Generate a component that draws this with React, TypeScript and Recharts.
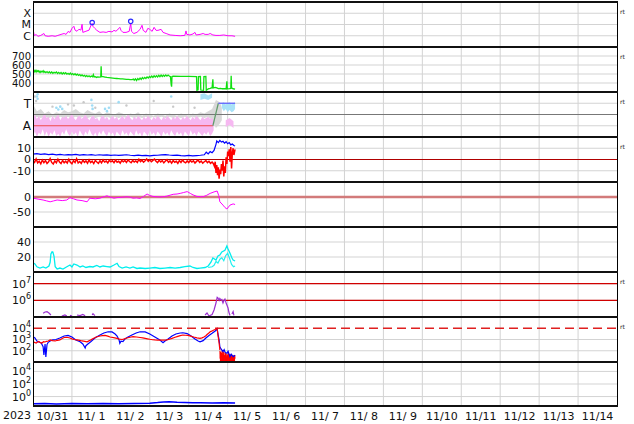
import React from 'react';
import { ComposedChart, Line, Area, XAxis, YAxis, ReferenceLine, CartesianGrid } from 'recharts';

const FONT = 'DejaVu Sans, sans-serif';
const W = 634;
const BOUNDS = [2, 47, 92, 137, 182, 227, 272, 317, 362, 406];

// ---- x axis (days since 2023-10-31 00:00) ----
const DAY_LINES = [1, 2, 3, 4, 5, 6, 7, 8, 9, 10, 11, 12, 13, 14];
const LABEL_POS = [0.5, 1.5, 2.5, 3.5, 4.5, 5.5, 6.5, 7.5, 8.5, 9.5, 10.5, 11.5, 12.5, 13.5, 14.5];
const DAY_LABELS = ['10/31', '11/ 1', '11/ 2', '11/ 3', '11/ 4', '11/ 5', '11/ 6', '11/ 7', '11/ 8', '11/ 9', '11/10', '11/11', '11/12', '11/13', '11/14'];
const YEAR_LABEL = '2023';

// ---- panel 1: X-ray flux (log10 W/m2) ----
const XRAY_TICKS = [-6, -5, -4];
const XRAY_LABELS = ['C', 'M', 'X'];
const xray: [number, number][] = [
  [0, -5.35], [0.03, -5.97], [0.08, -5.9], [0.13, -6.05], [0.2, -5.97], [0.28, -5.8], [0.31, -6.0], [0.39, -6.05],
  [0.49, -6.0], [0.57, -6.05], [0.64, -5.97], [0.72, -5.88], [0.8, -5.8], [0.85, -5.88], [0.9, -5.62], [0.95, -5.7],
  [1.0, -5.35], [1.05, -5.16], [1.08, -5.5], [1.13, -5.6], [1.18, -5.42], [1.23, -5.5], [1.26, -4.98], [1.28, -5.7],
  [1.36, -5.6], [1.44, -5.5], [1.49, -5.07], [1.52, -4.9], [1.54, -5.16], [1.59, -5.35], [1.64, -5.52], [1.72, -5.7],
  [1.8, -5.66], [1.88, -5.7], [1.95, -5.61], [2.03, -5.66], [2.08, -5.52], [2.13, -5.6], [2.21, -5.34], [2.23, -5.25],
  [2.26, -5.52], [2.31, -5.7], [2.39, -5.7], [2.47, -5.61], [2.51, -4.9], [2.53, -5.61], [2.59, -5.8], [2.67, -5.7],
  [2.75, -5.43], [2.8, -5.07], [2.83, -5.52], [2.9, -5.7], [2.95, -5.34], [3.0, -5.43], [3.06, -5.61], [3.11, -5.25],
  [3.16, -5.52], [3.21, -5.52], [3.29, -5.43], [3.34, -5.7], [3.42, -5.8], [3.52, -5.93], [3.65, -5.97], [3.78, -6.0],
  [3.9, -5.97], [3.93, -5.57], [3.95, -5.88], [4.03, -5.93], [4.11, -5.84], [4.16, -5.7], [4.19, -5.93], [4.29, -5.88],
  [4.37, -5.8], [4.42, -5.88], [4.5, -5.88], [4.55, -5.8], [4.62, -5.93], [4.7, -5.97], [4.8, -5.97], [4.9, -5.93],
  [5.01, -6.0], [5.11, -6.0], [5.19, -6.05],
];
const flares: [number, number][] = [[1.52, -4.82], [2.51, -4.72]];

// ---- panel 2: solar wind speed (km/s) ----
const SPEED_TICKS = [400, 500, 600, 700];
const speed: [number, number][] = [
  [0, 530], [0.02, 545], [0.04, 525], [0.06, 538], [0.08, 522], [0.1, 540], [0.12, 528], [0.14, 535], [0.16, 520],
  [0.18, 532], [0.2, 518], [0.22, 530], [0.24, 524], [0.26, 536], [0.28, 518], [0.3, 528], [0.33, 515], [0.36, 527],
  [0.39, 512], [0.42, 525], [0.45, 510], [0.48, 522], [0.51, 508], [0.54, 520], [0.57, 512], [0.6, 523], [0.63, 506],
  [0.66, 518], [0.69, 504], [0.72, 516], [0.75, 500], [0.78, 514], [0.81, 502], [0.84, 515], [0.87, 498], [0.9, 508],
  [0.93, 496], [0.96, 510], [0.99, 494], [1.02, 505], [1.05, 490], [1.08, 503], [1.11, 488], [1.14, 498], [1.17, 484],
  [1.2, 494], [1.23, 480], [1.26, 490], [1.29, 476], [1.32, 486], [1.35, 472], [1.38, 482], [1.41, 470], [1.44, 480],
  [1.47, 468], [1.5, 478], [1.53, 470], [1.55, 492], [1.57, 466], [1.6, 470], [1.63, 462], [1.66, 468], [1.7, 465],
  [1.74, 468], [1.75, 585], [1.76, 472], [1.8, 470], [1.85, 466], [1.9, 462], [1.95, 460], [2.0, 458], [2.05, 455],
  [2.1, 452], [2.15, 450], [2.2, 448], [2.25, 446], [2.3, 445], [2.35, 443], [2.4, 441], [2.45, 440], [2.5, 438],
  [2.55, 437], [2.58, 444], [2.6, 432], [2.63, 446], [2.66, 428], [2.69, 450], [2.72, 436], [2.75, 455], [2.78, 440],
  [2.81, 460], [2.84, 446], [2.87, 462], [2.9, 450], [2.93, 468], [2.96, 455], [2.99, 472], [3.02, 460], [3.05, 478],
  [3.08, 462], [3.11, 480], [3.14, 466], [3.17, 482], [3.2, 468], [3.23, 485], [3.26, 470], [3.29, 488], [3.32, 472],
  [3.35, 486], [3.38, 474], [3.41, 490], [3.44, 476], [3.47, 488], [3.5, 478], [3.53, 470], [3.55, 380], [3.56, 360],
  [3.57, 472], [3.6, 475], [3.8, 474], [4.0, 473], [4.2, 472], [4.21, 320], [4.24, 325], [4.25, 470], [4.3, 472],
  [4.31, 322], [4.38, 318], [4.39, 470], [4.44, 472], [4.45, 320], [4.5, 335], [4.55, 340], [4.6, 348], [4.62, 440],
  [4.63, 345], [4.68, 352], [4.72, 345], [4.76, 338], [4.82, 340], [4.86, 336], [4.92, 338], [4.96, 334], [4.98, 420],
  [4.99, 335], [5.05, 338], [5.08, 340], [5.09, 480], [5.1, 345], [5.14, 336], [5.19, 332],
];

// ---- panel 3: IMF sector (T / A) ----
const SECTOR_TICKS = [1, -1];
const SECTOR_LABELS = ['T', 'A'];
const sectorGray: [number, number, number][] = [
  [0, -0.3, 0.9], [0.1, -0.2, 0.3], [0.2, -0.3, 0.5], [0.3, -0.2, 0.1], [0.4, -0.3, 0.3], [0.5, -0.2, 0.0],
  [0.6, -0.3, 0.2], [0.7, -0.2, 0.1], [0.8, -0.3, 0.4], [0.9, -0.2, 0.2], [1.0, -0.3, 0.3], [1.1, -0.2, 0.5],
  [1.2, -0.3, 0.2], [1.3, -0.2, 0.1], [1.4, -0.3, 0.4], [1.5, -0.2, 0.2], [1.6, -0.3, 0.1], [1.7, -0.2, 0.3],
  [1.8, -0.3, 0.0], [1.9, -0.2, 0.2], [2.0, -0.3, 0.1], [2.1, -0.2, 0.0], [2.2, -0.3, 0.2], [2.3, -0.2, 0.1],
  [2.4, -0.3, -0.1], [2.5, -0.2, 0.1], [2.6, -0.3, 0.0], [2.7, -0.2, 0.2], [2.8, -0.3, -0.1], [2.9, -0.2, 0.1],
  [3.0, -0.3, 0.0], [3.1, -0.2, -0.1], [3.2, -0.3, 0.1], [3.3, -0.2, 0.0], [3.4, -0.3, -0.1], [3.5, -0.2, 0.1],
  [3.6, -0.3, 0.0], [3.7, -0.2, -0.1], [3.8, -0.3, 0.1], [3.9, -0.2, 0.0], [4.0, -0.3, -0.1], [4.1, -0.2, 0.1],
  [4.2, -0.3, 0.0], [4.3, -0.2, 0.2], [4.4, -0.3, 0.1], [4.5, -0.2, 0.3], [4.6, -0.5, 0.5], [4.7, -1.2, 1.3],
  [4.8, -0.8, 1.1], [4.85, -0.5, 0.6],
];
const sectorPink: [number, number, number][] = [
  [0, -1.9, -0.3], [0.05, -1.5, 0.0], [0.1, -2.0, -0.4], [0.15, -1.6, -0.1], [0.2, -1.8, -0.5], [0.25, -1.3, -0.2],
  [0.3, -1.9, 0.1], [0.35, -1.5, -0.3], [0.4, -2.0, -0.2], [0.45, -1.6, -0.6], [0.5, -1.8, -0.1], [0.55, -1.4, -0.4],
  [0.6, -1.9, -0.2], [0.65, -1.7, 0.0], [0.7, -2.0, -0.5], [0.75, -1.5, -0.2], [0.8, -1.8, -0.3], [0.85, -1.3, -0.1],
  [0.9, -1.7, -0.4], [0.95, -1.9, -0.2], [1.0, -1.5, 0.1], [1.05, -1.8, -0.3], [1.1, -1.6, -0.5], [1.15, -2.0, -0.2],
  [1.2, -1.4, -0.1], [1.25, -1.7, -0.4], [1.3, -1.9, -0.2], [1.35, -1.5, 0.0], [1.4, -1.8, -0.3], [1.45, -1.3, -0.5],
  [1.5, -1.7, -0.2], [1.55, -1.9, -0.1], [1.6, -1.6, -0.4], [1.65, -2.0, -0.3], [1.7, -1.5, -0.6], [1.75, -1.8, -0.2],
  [1.8, -1.4, -0.1], [1.85, -1.7, -0.4], [1.9, -1.9, -0.2], [1.95, -1.5, -0.5], [2.0, -1.8, -0.3], [2.05, -1.6, -0.1],
  [2.1, -2.0, -0.4], [2.15, -1.5, -0.2], [2.2, -1.7, -0.5], [2.25, -1.9, -0.3], [2.3, -1.4, -0.1], [2.35, -1.8, -0.4],
  [2.4, -1.6, -0.2], [2.45, -1.9, 0.0], [2.5, -1.5, -0.3], [2.55, -1.7, -0.5], [2.6, -1.9, -0.2], [2.65, -1.4, -0.4],
  [2.7, -1.8, -0.1], [2.75, -1.6, -0.3], [2.8, -2.0, -0.5], [2.85, -1.5, -0.2], [2.9, -1.7, -0.4], [2.95, -1.9, -0.1],
  [3.0, -1.4, -0.3], [3.05, -1.8, -0.5], [3.1, -1.6, -0.2], [3.15, -1.9, -0.4], [3.2, -1.5, -0.1], [3.25, -1.7, -0.3],
  [3.3, -2.0, -0.5], [3.35, -1.5, -0.2], [3.4, -1.8, -0.4], [3.45, -1.6, -0.1], [3.5, -1.9, -0.3], [3.55, -1.4, -0.5],
  [3.6, -1.7, -0.2], [3.65, -1.9, -0.4], [3.7, -1.5, -0.1], [3.75, -1.8, -0.3], [3.8, -1.6, -0.5], [3.85, -2.0, -0.2],
  [3.9, -1.5, -0.4], [3.95, -1.7, -0.1], [4.0, -1.9, -0.3], [4.05, -1.4, -0.5], [4.1, -1.8, -0.2], [4.15, -1.6, -0.4],
  [4.2, -1.9, -0.1], [4.25, -1.5, -0.3], [4.3, -1.7, -0.5], [4.35, -1.9, -0.2], [4.4, -1.6, -0.4], [4.45, -1.8, -0.3],
  [4.5, -1.5, -0.2], [4.55, -1.9, -0.4], [4.6, -1.7, -0.3], [4.64, -1.4, -0.6],
];
const sectorPinkEnd: [number, number, number][] = [[4.95, -1.1, -0.5], [5.05, -0.9, -0.3], [5.15, -1.2, -0.6]];
const sectorCyanA: [number, number, number][] = [[4.3, 1.3, 1.8], [4.4, 1.4, 1.9], [4.5, 1.3, 1.7], [4.6, 1.5, 1.9]];
const sectorCyanB: [number, number, number][] = [
  [4.85, 0.6, 1.0], [4.9, 0.3, 1.1], [4.95, 0.5, 0.9], [5.0, 0.2, 1.0], [5.05, 0.4, 1.1], [5.1, 0.2, 0.9], [5.15, 0.3, 1.0], [5.19, 0.5, 1.1],
];
const sectorCyanDots: [number, number][] = [
  [0.1, 1.6], [0.12, 1.4], [0.12, 1.8], [0.6, 0.6], [0.65, 0.45], [0.7, 0.7], [0.75, 0.5], [1.5, 1.3], [1.52, 0.8],
  [1.53, 0.5], [1.85, 0.5], [1.9, 0.3], [1.95, 0.6], [2.2, 1.1], [3.55, 1.6],
];
const sectorGrayDots: [number, number][] = [
  [0.05, 1.6], [0.08, 1.2], [0.5, 0.7], [0.9, 0.9], [1.05, 0.8], [1.3, 1.1], [1.6, 0.6], [2.4, 0.8], [3.1, 1.2], [3.6, 0.7], [4.15, 0.6],
];
const sectorAway: [number, number][] = [[0, -1], [4.62, -1]];
const sectorSwitch: [number, number][] = [[4.62, -1], [4.76, 1]];
const sectorToward: [number, number][] = [[4.76, 1], [5.19, 1]];

// ---- panel 4: IMF Bt / Bz (nT) ----
const B_TICKS = [10, 0, -10];
const bt: [number, number][] = [
  [0, 4.8], [0.1, 5.2], [0.2, 4.5], [0.3, 5.0], [0.4, 4.3], [0.5, 4.7], [0.6, 4.2], [0.7, 4.6], [0.8, 4.0], [0.9, 4.4],
  [1.0, 4.1], [1.1, 4.5], [1.2, 3.9], [1.3, 4.3], [1.4, 4.0], [1.5, 4.4], [1.6, 3.8], [1.7, 4.2], [1.8, 3.9], [1.9, 4.1],
  [2.0, 3.7], [2.1, 4.0], [2.2, 3.6], [2.3, 3.9], [2.4, 4.2], [2.5, 3.8], [2.6, 3.5], [2.7, 3.8], [2.8, 3.4], [2.9, 3.7],
  [3.0, 3.3], [3.1, 3.6], [3.2, 3.8], [3.3, 4.1], [3.4, 4.4], [3.5, 4.0], [3.6, 3.7], [3.7, 3.9], [3.8, 3.5], [3.9, 3.3],
  [4.0, 3.6], [4.1, 3.2], [4.2, 3.5], [4.3, 3.8], [4.4, 4.2], [4.45, 6.5], [4.5, 5.0], [4.55, 7.0], [4.6, 6.0], [4.65, 8.0],
  [4.7, 13.5], [4.72, 16.5], [4.76, 15.0], [4.8, 17.0], [4.84, 15.5], [4.88, 16.2], [4.92, 14.5], [4.96, 15.8], [5.0, 14.0],
  [5.04, 15.0], [5.08, 13.0], [5.12, 13.8], [5.16, 12.5], [5.19, 12.0],
];
const bz: [number, number][] = [
  [0, -1], [0.04, -2.5], [0.08, 0.5], [0.12, -3], [0.16, -1.5], [0.2, -3.8], [0.24, -0.5], [0.28, -2.8], [0.32, -1],
  [0.36, -3.5], [0.4, -2], [0.44, 0.8], [0.48, -2.6], [0.52, -4], [0.56, -1.2], [0.6, -3], [0.64, 0.3], [0.68, -2.2],
  [0.72, -3.6], [0.76, -0.8], [0.8, -2.9], [0.84, -1.5], [0.88, -3.2], [0.92, 0.2], [0.96, -2.4], [1.0, -3.8], [1.04, -1],
  [1.08, -2.7], [1.12, 0.6], [1.16, -3.1], [1.2, -1.8], [1.24, -3.5], [1.28, -0.6], [1.32, -2.5], [1.36, -1.2], [1.4, -3.3],
  [1.44, -0.3], [1.48, -2.8], [1.52, -1.5], [1.56, -3.6], [1.6, -0.9], [1.64, -2.2], [1.68, -3.4], [1.72, -1.1], [1.76, -2.9],
  [1.8, -0.4], [1.84, -2.3], [1.88, -1.4], [1.92, -3], [1.96, -0.7], [2.0, -2.1], [2.04, -1.2], [2.08, -2.8], [2.12, -0.5],
  [2.16, -2.4], [2.2, -1.6], [2.24, -3.2], [2.28, -0.8], [2.32, -2], [2.36, -1], [2.4, -2.6], [2.44, -0.4], [2.48, -1.8],
  [2.52, -2.9], [2.56, -0.9], [2.6, -2.2], [2.64, -1.3], [2.68, -2.7], [2.72, 0.2], [2.76, -1.9], [2.8, -0.6], [2.84, -2.4],
  [2.88, -1.1], [2.92, 0.5], [2.96, -1.6], [3.0, -0.3], [3.04, -2], [3.08, -0.8], [3.12, 0.4], [3.16, -1.5], [3.2, -2.8],
  [3.24, -0.6], [3.28, -2.2], [3.32, -1], [3.36, -3], [3.4, -1.4], [3.44, -0.2], [3.48, -2.5], [3.52, -1.2], [3.56, -3.2],
  [3.6, -0.9], [3.64, -2.4], [3.68, -1.6], [3.72, -3.4], [3.76, -1], [3.8, -2.6], [3.84, -0.5], [3.88, -2.1], [3.92, -3],
  [3.96, -1.3], [4.0, -2.7], [4.04, -0.8], [4.08, -2.3], [4.12, -1.2], [4.16, -3.1], [4.2, -1.7], [4.24, -0.6], [4.28, -2.5],
  [4.32, -1.4], [4.36, -3.2], [4.4, -2], [4.44, -1], [4.48, -2.8], [4.52, -1.6], [4.56, -3.4], [4.6, -2.2], [4.63, -3.5],
  [4.66, -6], [4.68, -2], [4.7, -12], [4.72, -5], [4.74, -14], [4.76, -7], [4.78, -17], [4.8, -9], [4.82, -13], [4.84, -4],
  [4.86, -10], [4.88, -1], [4.9, -15], [4.92, -6], [4.94, -12], [4.96, 2], [4.98, -4], [5.0, 7], [5.02, 3], [5.04, 9],
  [5.06, -2], [5.08, 11], [5.1, -8], [5.12, 6], [5.14, 10], [5.16, 4], [5.19, 9],
];

// ---- panel 5: Dst (nT) ----
const DST_TICKS = [0, -50];
const dst: [number, number][] = [
  [0, -4], [0.13, -7], [0.26, -10], [0.35, -13], [0.44, -16], [0.53, -13], [0.62, -10], [0.75, -12], [0.87, -10],
  [0.95, -2], [1.04, -6], [1.13, -10], [1.26, -12], [1.39, -16], [1.46, -4], [1.6, -6], [1.72, -4], [1.8, 0], [1.9, 4],
  [2.0, -1], [2.08, -4], [2.16, -2], [2.28, -1], [2.41, 1], [2.5, -1], [2.57, -4], [2.66, -3], [2.75, -5], [2.84, 2],
  [2.93, 10], [3.0, 5], [3.08, 2], [3.17, 1], [3.26, 0], [3.35, 1], [3.44, 3], [3.52, 6], [3.6, 9], [3.7, 10], [3.78, 12],
  [3.87, 15], [3.96, 18], [4.04, 12], [4.11, 7], [4.21, 2], [4.3, 1], [4.37, 1], [4.45, 5], [4.55, 12], [4.65, 17],
  [4.73, 20], [4.77, 5], [4.8, -16], [4.88, -27], [4.93, -35], [4.98, -40], [5.06, -27], [5.14, -23], [5.19, -25],
];

// ---- panel 6: proton density ----
const DENS_TICKS = [40, 20];
const dens: [number, number][] = [
  [0, 12.4], [0.05, 10.7], [0.1, 7], [0.18, 5.3], [0.26, 6.7], [0.33, 5.3], [0.41, 8], [0.44, 13], [0.46, 24], [0.49, 27],
  [0.51, 26.7], [0.54, 21], [0.57, 7], [0.62, 4], [0.69, 5.3], [0.77, 4], [0.87, 7], [0.95, 9.3], [1.0, 6.7], [1.05, 10.7],
  [1.13, 9.3], [1.21, 6.7], [1.28, 8], [1.36, 6], [1.46, 7.3], [1.54, 6.7], [1.64, 8.7], [1.72, 6.7], [1.8, 8], [1.9, 7.3],
  [1.98, 6.7], [2.08, 9.3], [2.16, 11.6], [2.21, 7.3], [2.29, 5.3], [2.39, 6.7], [2.49, 5.3], [2.57, 6.7], [2.67, 4.7],
  [2.75, 5.3], [2.88, 4.7], [3.0, 5.3], [3.13, 6], [3.26, 4.7], [3.39, 5.3], [3.52, 6], [3.65, 5.3], [3.78, 6], [3.9, 7.3],
  [4.03, 8], [4.11, 6], [4.21, 4.7], [4.29, 5.3], [4.42, 6], [4.5, 8], [4.57, 13], [4.62, 18.7], [4.7, 16], [4.75, 21.3],
  [4.8, 22.7], [4.85, 26.7], [4.93, 29], [4.98, 34.7], [5.01, 30.7], [5.06, 25], [5.11, 18.7], [5.14, 16], [5.19, 14.7],
];
const dens2: [number, number][] = [
  [4.5, 6], [4.6, 7], [4.65, 9], [4.7, 14], [4.75, 12], [4.8, 17], [4.85, 19], [4.9, 15], [4.95, 22], [5.0, 25],
  [5.05, 18], [5.1, 10], [5.15, 7], [5.19, 8],
];

// ---- panel 7: log10 flux (purple) ----
const P7_TICKS = [7, 6];
const p7: [number, number | null][] = [
  [0.26, 5.22], [0.31, 5.3], [0.36, 5.32], [0.41, 5.24], [0.46, 5.12], [0.5, null], [0.74, 5.06], [0.82, 5.12],
  [0.87, 5.06], [0.9, null], [0.95, 5.1], [1.0, 5.05], [1.05, null], [1.13, 5.12], [1.21, 5.08], [1.28, 5.15],
  [1.34, 5.08], [1.38, null], [1.52, 5.12], [1.54, 5.2], [1.59, 5.08], [1.62, null], [4.42, 5.12], [4.47, 5.24],
  [4.52, 5.06], [4.6, 5.15], [4.65, 5.42], [4.7, 5.84], [4.73, 6.18], [4.75, 6.14], [4.78, 6.0], [4.8, 6.11],
  [4.83, 6.02], [4.85, 6.05], [4.88, 5.84], [4.91, 6.02], [4.93, 6.08], [4.96, 5.84], [4.98, 5.72], [5.01, 5.54],
  [5.03, 5.3], [5.06, 5.09], [5.08, null], [5.11, 5.18], [5.14, 5.32], [5.16, 5.1],
];

// ---- panel 8: log10 electron flux ----
const P8_TICKS = [4, 3, 2];
const p8blue: [number, number][] = [
  [0, 3.25], [0.05, 3.13], [0.1, 2.87], [0.15, 2.78], [0.21, 2.69], [0.26, 2.36], [0.28, 1.62], [0.31, 2.6], [0.33, 1.44],
  [0.36, 2.55], [0.39, 2.75], [0.44, 2.87], [0.51, 2.96], [0.59, 3.0], [0.69, 3.13], [0.8, 3.31], [0.9, 3.36], [1.0, 3.22],
  [1.1, 2.96], [1.21, 2.8], [1.28, 2.6], [1.34, 2.24], [1.36, 2.45], [1.41, 2.6], [1.49, 2.82], [1.59, 3.13], [1.72, 3.4],
  [1.82, 3.58], [1.93, 3.69], [2.03, 3.67], [2.11, 3.49], [2.16, 3.31], [2.21, 2.96], [2.23, 2.66], [2.26, 2.85], [2.31, 2.82],
  [2.36, 3.04], [2.44, 3.22], [2.54, 3.4], [2.65, 3.58], [2.75, 3.69], [2.88, 3.67], [3.0, 3.49], [3.13, 3.22], [3.26, 2.96],
  [3.34, 2.72], [3.39, 2.87], [3.47, 3.04], [3.57, 3.31], [3.67, 3.49], [3.78, 3.58], [3.85, 3.6], [3.96, 3.53], [4.06, 3.31],
  [4.16, 3.04], [4.24, 2.87], [4.29, 2.8], [4.37, 2.9], [4.44, 3.13], [4.52, 3.36], [4.6, 3.55], [4.68, 3.76], [4.73, 3.93],
  [4.75, 3.49], [4.78, 2.96], [4.8, 2.36], [4.83, 2.16], [4.88, 1.92], [4.91, 2.1], [4.93, 1.89], [4.98, 1.76], [5.01, 1.95],
  [5.06, 1.47], [5.09, 1.7], [5.14, 1.47], [5.19, 1.6],
];
const p8red: [number, number][] = [
  [0, 2.8], [0.04, 2.74], [0.08, 2.69], [0.12, 2.78], [0.15, 2.82], [0.19, 2.72], [0.23, 2.69], [0.27, 2.8], [0.31, 2.78],
  [0.35, 2.84], [0.39, 2.87], [0.44, 2.96], [0.5, 2.9], [0.57, 2.87], [0.63, 2.93], [0.69, 2.96], [0.75, 3.08], [0.8, 3.18],
  [0.87, 3.2], [0.95, 3.13], [1.0, 3.06], [1.05, 3.0], [1.13, 2.96], [1.2, 2.92], [1.26, 2.87], [1.33, 2.84], [1.39, 2.8],
  [1.46, 2.92], [1.52, 3.04], [1.57, 3.12], [1.62, 3.22], [1.72, 3.31], [1.78, 3.35], [1.85, 3.36], [1.92, 3.3], [1.98, 3.22],
  [2.07, 3.16], [2.16, 3.1], [2.22, 3.04], [2.29, 3.0], [2.35, 3.06], [2.41, 3.13], [2.49, 3.2], [2.57, 3.25], [2.66, 3.22],
  [2.75, 3.18], [2.82, 3.14], [2.88, 3.1], [2.94, 3.06], [3.0, 3.02], [3.07, 2.98], [3.13, 2.96], [3.2, 2.95], [3.26, 2.94],
  [3.35, 2.95], [3.44, 2.96], [3.5, 3.02], [3.57, 3.1], [3.65, 3.2], [3.72, 3.28], [3.78, 3.35], [3.85, 3.4], [3.92, 3.38],
  [3.98, 3.36], [4.05, 3.3], [4.13, 3.22], [4.21, 3.15], [4.29, 3.1], [4.34, 3.15], [4.39, 3.22], [4.44, 3.34], [4.47, 3.44],
  [4.51, 3.56], [4.55, 3.69], [4.59, 3.74], [4.62, 3.8], [4.66, 3.86], [4.7, 3.93], [4.73, 4.0], [4.75, 3.4], [4.78, 2.69],
  [4.8, 2.07],
];
const p8redFill: [number, number][] = [
  [4.8, 2.0], [4.81, 1.3], [4.82, 1.9], [4.83, 1.2], [4.84, 1.8], [4.85, 1.4], [4.86, 2.0], [4.87, 1.1], [4.88, 1.7],
  [4.89, 1.3], [4.9, 1.9], [4.91, 1.2], [4.92, 1.6], [4.93, 1.1], [4.94, 1.8], [4.95, 1.3], [4.96, 1.5], [4.97, 1.0],
  [4.98, 1.7], [4.99, 1.2], [5.0, 1.6], [5.01, 1.1], [5.02, 1.8], [5.03, 1.3], [5.04, 1.5], [5.05, 1.0], [5.06, 1.7],
  [5.07, 1.2], [5.08, 1.6], [5.09, 1.1], [5.1, 1.7], [5.11, 1.3], [5.12, 1.5], [5.13, 1.0], [5.14, 1.6], [5.15, 1.2],
  [5.16, 1.5], [5.17, 1.1], [5.18, 1.6], [5.19, 1.3],
];

// ---- panel 9: log10 flux (blue) ----
const P9_TICKS = [4, 2, 0];
const p9: [number, number][] = [
  [0, -1.15], [0.3, -1.1], [0.6, -1.18], [1.0, -1.12], [1.4, -1.16], [1.8, -1.1], [2.2, -1.14], [2.6, -1.1], [3.0, -1.05],
  [3.2, -0.95], [3.35, -0.85], [3.5, -0.82], [3.7, -0.9], [3.9, -0.95], [4.1, -1.0], [4.3, -0.98], [4.6, -1.03],
  [4.9, -1.0], [5.19, -1.04],
];

const RT_LABEL = 'rt';
const RT_PANELS = [0, 1, 2, 3, 6, 7];

// ---- helpers ----
const rows = (a: [number, number | null][]) => a.map(([t, v]) => ({ t, v }));
const rangeRows = (a: [number, number, number][]) => a.map(([t, lo, hi]) => ({ t, r: [lo, hi] }));

type Fmt = (v: number) => { text: string; exp?: string };
const plainFmt: Fmt = (v) => ({ text: String(v) });
const logFmt: Fmt = (v) => ({ text: '10', exp: String(v) });
const mapFmt = (ticks: number[], labels: string[]): Fmt => (v) => ({ text: labels[ticks.indexOf(v)] ?? '' });

function YTick(props: any) {
  const { x, y, payload, fmt, fs } = props;
  const lab = fmt(payload.value);
  const size = fs || 11;
  return (
    <text x={x} y={y} dy={size * 0.36} textAnchor="end" fontSize={size} fontFamily={FONT} fill="#111">
      <tspan>{lab.text}</tspan>
      {lab.exp !== undefined ? <tspan dy={-5} fontSize={8}>{lab.exp}</tspan> : null}
    </text>
  );
}

function XTick(props: any) {
  const { x, y, payload } = props;
  const lab = DAY_LABELS[Math.floor(payload.value)];
  return (
    <text x={x} y={y} dy={12} textAnchor="middle" fontSize={11} fontFamily={FONT} fill="#111" style={{ whiteSpace: 'pre' }}>
      {lab}
    </text>
  );
}

type PanelProps = {
  idx: number;
  domain: [number, number];
  ticks: number[];
  fmt: Fmt;
  grid: number[];
  fs?: number;
  showX?: boolean;
  children?: React.ReactNode;
};

function Panel({ idx, domain, ticks, fmt, grid, fs, showX, children }: PanelProps) {
  const top = BOUNDS[idx];
  const h = BOUNDS[idx + 1] - top;
  const xh = showX ? 18 : 0;
  return (
    <div style={{ position: 'absolute', left: 0, top, width: W, height: h + xh }}>
      <ComposedChart width={W} height={h + xh} margin={{ top: 0, right: 17, bottom: 0, left: 0 }}>
        <CartesianGrid stroke="#d3d3d3" strokeWidth={1} horizontalValues={grid} verticalValues={DAY_LINES} />
        <XAxis
          type="number"
          dataKey="t"
          domain={[0, 15]}
          allowDataOverflow
          hide={!showX}
          height={showX ? 18 : 0}
          ticks={LABEL_POS}
          interval={0}
          tickLine={false}
          axisLine={false}
          tickSize={0}
          tickMargin={2}
          tick={XTick}
        />
        <YAxis
          type="number"
          domain={domain}
          allowDataOverflow
          width={33}
          ticks={ticks}
          interval={0}
          tickLine={false}
          axisLine={false}
          tickSize={0}
          tickMargin={2}
          tick={(p: any) => <YTick {...p} fmt={fmt} fs={fs} />}
        />
        {children}
      </ComposedChart>
    </div>
  );
}

export default function App() {
  const lineBase = { type: 'linear' as const, dot: false, isAnimationActive: false, dataKey: 'v', activeDot: false };
  const areaBase = { type: 'linear' as const, isAnimationActive: false, dataKey: 'r', stroke: 'none', activeDot: false };
  return (
    <div style={{ position: 'absolute', left: 0, top: 0, width: W, height: 424, background: '#fff', fontFamily: FONT }}>
      <Panel idx={0} domain={[-7, -3]} ticks={XRAY_TICKS} fmt={mapFmt(XRAY_TICKS, XRAY_LABELS)} grid={XRAY_TICKS} fs={11}>
        <Line {...lineBase} data={rows(xray)} stroke="#ff00ff" strokeWidth={1} />
        <Line {...lineBase} data={rows(flares)} stroke="none" dot={{ r: 2.2, stroke: '#2a2aff', strokeWidth: 1.2, fill: 'none' }} />
      </Panel>

      <Panel idx={1} domain={[300, 800]} ticks={SPEED_TICKS} fmt={plainFmt} grid={SPEED_TICKS} fs={10}>
        <Line {...lineBase} data={rows(speed)} stroke="#10e010" strokeWidth={1.3} />
      </Panel>

      <Panel idx={2} domain={[-2, 2]} ticks={SECTOR_TICKS} fmt={mapFmt(SECTOR_TICKS, SECTOR_LABELS)} grid={SECTOR_TICKS} fs={12}>
        <ReferenceLine y={0} stroke="#777" strokeWidth={1} />
        <Area {...areaBase} data={rangeRows(sectorGray)} fill="#d8d8d8" fillOpacity={1} />
        <Area {...areaBase} data={rangeRows(sectorPink)} fill="#f6b8f1" fillOpacity={1} />
        <Area {...areaBase} data={rangeRows(sectorPinkEnd)} fill="#f6b8f1" fillOpacity={1} />
        <Area {...areaBase} data={rangeRows(sectorCyanA)} fill="#a9e2f7" fillOpacity={1} />
        <Area {...areaBase} data={rangeRows(sectorCyanB)} fill="#a9e2f7" fillOpacity={1} />
        <Line {...lineBase} data={rows(sectorGrayDots)} stroke="none" dot={{ r: 1.2, fill: '#c8c8c8', stroke: 'none' }} />
        <Line {...lineBase} data={rows(sectorCyanDots)} stroke="none" dot={{ r: 1.3, fill: '#9fdcf5', stroke: 'none' }} />
        <Line {...lineBase} data={rows(sectorAway)} stroke="#f04848" strokeWidth={1} />
        <Line {...lineBase} data={rows(sectorSwitch)} stroke="#5f9a6a" strokeWidth={1.2} />
        <Line {...lineBase} data={rows(sectorToward)} stroke="#5b5bff" strokeWidth={1.2} />
      </Panel>

      <Panel idx={3} domain={[-20, 20]} ticks={B_TICKS} fmt={plainFmt} grid={[10, -10]}>
        <ReferenceLine y={0} stroke="#b00000" strokeWidth={1} />
        <Line {...lineBase} data={rows(bt)} stroke="#0000ff" strokeWidth={1.2} />
        <Line {...lineBase} data={rows(bz)} stroke="#ff0000" strokeWidth={1.5} />
      </Panel>

      <Panel idx={4} domain={[-100, 50]} ticks={DST_TICKS} fmt={plainFmt} grid={[-50]}>
        <ReferenceLine y={0} stroke="#d27a7a" strokeWidth={2.5} />
        <Line {...lineBase} data={rows(dst)} stroke="#ff00ff" strokeWidth={1} />
      </Panel>

      <Panel idx={5} domain={[0, 60]} ticks={DENS_TICKS} fmt={plainFmt} grid={DENS_TICKS}>
        <Line {...lineBase} data={rows(dens2)} stroke="#22f0f0" strokeWidth={1.2} />
        <Line {...lineBase} data={rows(dens)} stroke="#00eeee" strokeWidth={1.3} />
      </Panel>

      <Panel idx={6} domain={[5, 7.7]} ticks={P7_TICKS} fmt={logFmt} grid={P7_TICKS}>
        <ReferenceLine y={7} stroke="#d00000" strokeWidth={1.2} />
        <ReferenceLine y={6} stroke="#d00000" strokeWidth={1.2} />
        <Line {...lineBase} data={rows(p7)} stroke="#9b30d0" strokeWidth={1.2} connectNulls={false} />
      </Panel>

      <Panel idx={7} domain={[1, 5]} ticks={P8_TICKS} fmt={logFmt} grid={[3, 2]}>
        <ReferenceLine y={4} stroke="#e02020" strokeWidth={1.3} strokeDasharray="9 5" />
        <Area {...areaBase} dataKey="v" data={rows(p8redFill)} fill="#ff0000" fillOpacity={1} stroke="#ff0000" strokeWidth={1} baseValue={1} />
        <Line {...lineBase} data={rows(p8blue)} stroke="#0000ff" strokeWidth={1.2} />
        <Line {...lineBase} data={rows(p8red)} stroke="#ff0000" strokeWidth={1.2} />
      </Panel>

      <Panel idx={8} domain={[-1.5, 5.5]} ticks={P9_TICKS} fmt={logFmt} grid={P9_TICKS} showX>
        <Line {...lineBase} data={rows(p9)} stroke="#0000ff" strokeWidth={1.5} />
      </Panel>

      {/* frame */}
      <div style={{ position: 'absolute', left: 32.5, top: 1.5, width: 1, height: 405, background: '#000' }} />
      <div style={{ position: 'absolute', left: 617, top: 1.5, width: 1, height: 405, background: '#000' }} />
      {BOUNDS.map((b, i) => (
        <div
          key={i}
          style={{
            position: 'absolute',
            left: 32.5,
            top: i === 0 ? b - 0.75 : b - 1.25,
            width: 585.5,
            height: i === 0 ? 1.5 : 2.5,
            background: '#111',
          }}
        />
      ))}
      {RT_PANELS.map((p) => (
        <div
          key={p}
          style={{ position: 'absolute', left: 620, top: BOUNDS[p] + 6, fontSize: 6, lineHeight: '7px', color: '#222', fontFamily: FONT }}
        >
          {RT_LABEL}
        </div>
      ))}
      <div style={{ position: 'absolute', left: 1, top: 409, width: 32, fontSize: 11, lineHeight: '13px', color: '#111', fontFamily: FONT, textAlign: 'center' }}>
        {YEAR_LABEL}
      </div>
    </div>
  );
}
